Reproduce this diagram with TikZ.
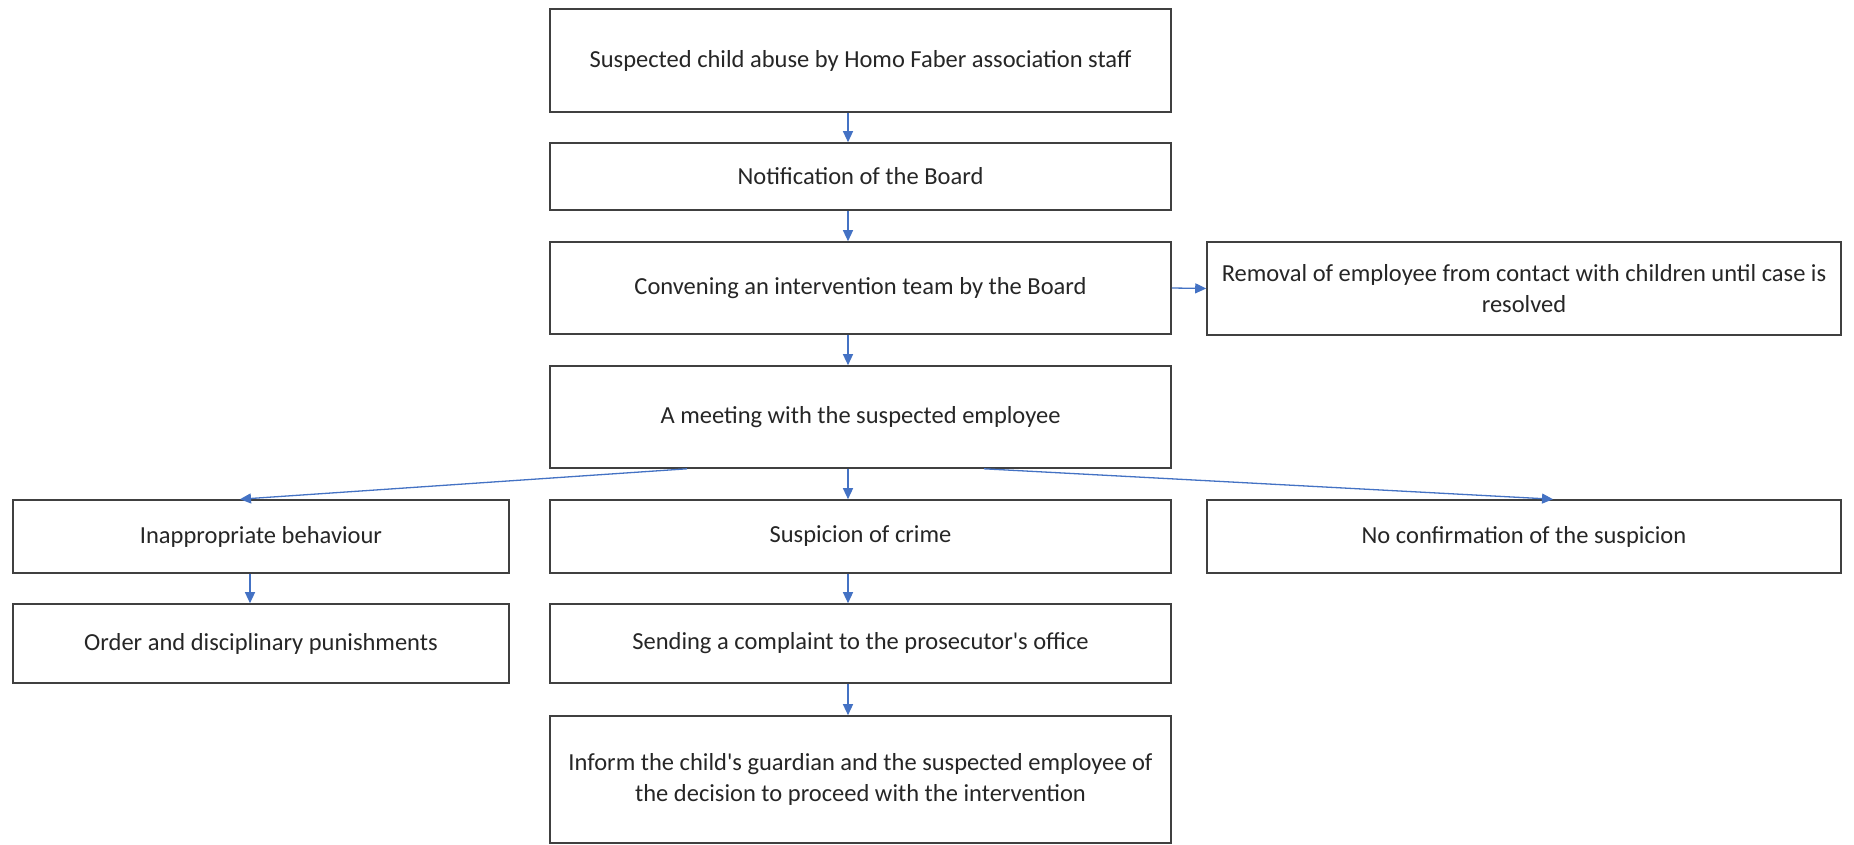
\documentclass[tikz,border=0pt]{standalone}
\usepackage{fontspec}
\setmainfont{Carlito}[Ligatures=TeXOff]
\usetikzlibrary{arrows.meta}
\definecolor{arrblue}{HTML}{4472C4}
\definecolor{boxline}{HTML}{404040}
\definecolor{txt}{HTML}{262626}
\tikzset{
  box/.style={draw=boxline, line width=1.6pt, fill=white, inner sep=0pt, align=center,
    text=txt, font=\fontsize{24.5}{31}\selectfont},
  arr/.style={draw=arrblue, line width=1.3pt, -{Triangle[length=11pt,width=10pt]}}
}
\begin{document}
\begin{tikzpicture}[x=1pt,y=-1pt]
\useasboundingbox[fill=white] (0,0) rectangle (1854,845);
% centre column
\node[box, minimum width=621pt, minimum height=103pt] (b1) at (860.5,60.5) {Suspected child abuse by Homo Faber association staff};
\node[box, minimum width=621pt, minimum height=67pt] (b2) at (860.5,176.5) {Notification of the Board};
\node[box, minimum width=621pt, minimum height=92pt] (b3) at (860.5,288) {Convening an intervention team by the Board};
\node[box, minimum width=634pt, minimum height=93pt] (rem) at (1524,288.5) {Removal of employee from contact with children until case is\\resolved};
\node[box, minimum width=621pt, minimum height=102pt] (b4) at (860.5,417) {A meeting with the suspected employee};
\node[box, minimum width=496pt, minimum height=73pt] (l5) at (261,536.5) {Inappropriate behaviour};
\node[box, minimum width=621pt, minimum height=73pt] (m5) at (860.5,536.5) {Suspicion of crime};
\node[box, minimum width=634pt, minimum height=73pt] (r5) at (1524,536.5) {No confirmation of the suspicion};
\node[box, minimum width=496pt, minimum height=79pt] (l6) at (261,643.5) {Order and disciplinary punishments};
\node[box, minimum width=621pt, minimum height=79pt] (m6) at (860.5,643.5) {Sending a complaint to the prosecutor's office};
\node[box, minimum width=621pt, minimum height=127pt] (m7) at (860.5,779.5) {Inform the child's guardian and the suspected employee of\\the decision to proceed with the intervention};
% helper coordinates for arrow x positions
\coordinate (cx) at (848,0);
\coordinate (lx) at (250,0);
\coordinate (dls) at (687,0);
\coordinate (dlt) at (240,0);
\coordinate (drs) at (984,0);
\coordinate (drt) at (1553,0);
% connectors
\draw[arr] (b1.south -| cx) -- (b2.north -| cx);
\draw[arr] (b2.south -| cx) -- (b3.north -| cx);
\draw[arr] (b3.east) -- (rem.west);
\draw[arr] (b3.south -| cx) -- (b4.north -| cx);
\draw[arr] (b4.south -| cx) -- (m5.north -| cx);
\draw[arr] (b4.south -| dls) -- (l5.north -| dlt);
\draw[arr] (b4.south -| drs) -- (r5.north -| drt);
\draw[arr] (l5.south -| lx) -- (l6.north -| lx);
\draw[arr] (m5.south -| cx) -- (m6.north -| cx);
\draw[arr] (m6.south -| cx) -- (m7.north -| cx);
\end{tikzpicture}
\end{document}
